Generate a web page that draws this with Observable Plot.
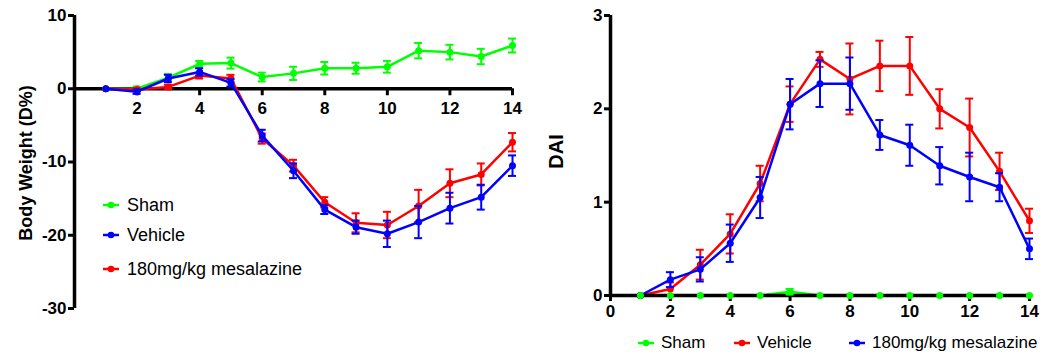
<!DOCTYPE html>
<html><head><meta charset="utf-8">
<script src="https://cdn.jsdelivr.net/npm/d3@7"></script>
<script src="https://cdn.jsdelivr.net/npm/@observablehq/plot@0.6"></script>
<style>
body{margin:0;background:#fff;font-family:"Liberation Sans",Arial,sans-serif;}
#wrap{position:relative;width:1045px;height:355px;overflow:hidden;background:#fff;}
.panel{position:absolute;top:0;}
.leg{position:absolute;height:24px;display:flex;align-items:center;white-space:nowrap;color:#000;}
.leg svg{display:block;}
</style></head><body><div id="wrap"></div>
<script>
// ---- data ----
const days = [1,2,3,4,5,6,7,8,9,10,11,12,13,14];

// Body weight change (%)
const bwSham       = [0, 0.0, 1.5, 3.4, 3.5, 1.6, 2.1, 2.8, 2.8, 3.0, 5.2, 5.0, 4.4, 5.9];
const bwShamErr    = [0, 0.3, 0.5, 0.4, 0.75, 0.6, 0.9, 0.85, 0.75, 0.8, 1.05, 1.0, 1.05, 0.95];
const bwVehicle    = [0, -0.4, 1.4, 2.3, 0.8, -6.4, -11.2, -16.5, -18.9, -19.8, -18.2, -16.3, -14.8, -10.5];
const bwVehicleErr = [0, 0.3, 0.5, 0.5, 0.5, 0.8, 1.0, 0.6, 0.9, 1.8, 2.2, 2.1, 1.7, 1.4];
const bwMesa       = [0, -0.1, 0.25, 1.8, 1.4, -6.8, -10.5, -15.5, -18.3, -18.6, -16.0, -12.9, -11.7, -7.3];
const bwMesaErr    = [0, 0.2, 0.3, 0.4, 0.5, 0.7, 0.8, 0.7, 1.3, 1.8, 2.2, 1.9, 1.5, 1.25];
const bwYTicks = [10, 0, -10, -20, -30];
const bwXTicks = [2, 4, 6, 8, 10, 12, 14];

// Disease activity index
const daiSham       = [0, 0, 0, 0, 0, 0.04, 0, 0, 0, 0, 0, 0, 0, 0];
const daiShamErr    = [0, 0, 0, 0, 0, 0.03, 0, 0, 0, 0, 0, 0, 0, 0];
const daiVehicle    = [0, 0.07, 0.33, 0.66, 1.2, 2.05, 2.53, 2.32, 2.46, 2.46, 2.0, 1.8, 1.33, 0.8];
const daiVehicleErr = [0, 0.07, 0.16, 0.21, 0.19, 0.19, 0.08, 0.38, 0.27, 0.31, 0.21, 0.31, 0.2, 0.13];
const daiMesa       = [0, 0.17, 0.28, 0.56, 1.05, 2.05, 2.27, 2.27, 1.72, 1.61, 1.39, 1.27, 1.16, 0.5];
const daiMesaErr    = [0, 0.08, 0.13, 0.2, 0.22, 0.27, 0.25, 0.28, 0.16, 0.22, 0.2, 0.26, 0.15, 0.11];
const daiYTicks = [0, 1, 2, 3];
const daiXTicks = [0, 2, 4, 6, 8, 10, 12, 14];

const groups = ["Sham", "Vehicle", "180mg/kg mesalazine"];
const GREEN = "#00ff00", BLUE = "#0000ff", RED = "#ff0000";
const FONT = '"Liberation Sans", Arial, sans-serif';

function rows(vals, errs) {
  return days.map((d, i) => ({day: d, v: vals[i], e: errs[i]}));
}

function seriesMarks(data, color) {
  const eb = data.filter(r => r.e > 0);
  return [
    Plot.line(data, {x: "day", y: "v", stroke: color, strokeWidth: 2.5}),
    Plot.ruleX(eb, {x: "day", y1: r => r.v - r.e, y2: r => r.v + r.e, stroke: color, strokeWidth: 2}),
    Plot.ruleY(eb, {y: r => r.v + r.e, x1: "day", x2: "day", insetLeft: -4, insetRight: -4, stroke: color, strokeWidth: 2}),
    Plot.ruleY(eb, {y: r => r.v - r.e, x1: "day", x2: "day", insetLeft: -4, insetRight: -4, stroke: color, strokeWidth: 2}),
    Plot.dot(data, {x: "day", y: "v", fill: color, r: 3.5})
  ];
}

const wrap = document.getElementById("wrap");

// ---- left panel: body weight ----
const left = Plot.plot({
  width: 530, height: 355,
  marginLeft: 74, marginRight: 18, marginTop: 15, marginBottom: 47,
  x: {domain: [0, 14], axis: null},
  y: {domain: [-30, 10], axis: null},
  style: {fontFamily: FONT, background: "transparent", overflow: "visible"},
  marks: [
    Plot.axisY({ticks: bwYTicks, tickFormat: d => String(d), tickSize: 6, tickPadding: 2, strokeWidth: 3, fontSize: 17, fontWeight: "bold", label: null, color: "#000"}),
    Plot.ruleX([0], {x: () => 0, y1: () => -30, y2: () => 10, strokeWidth: 3.5, stroke: "#000"}),
    Plot.ruleY([0], {y: () => 0, x1: () => 0, x2: () => 14, strokeWidth: 3.5, stroke: "#000"}),
    Plot.ruleX(bwXTicks, {x: d => d, y1: () => 0, y2: () => 0, insetBottom: -7, strokeWidth: 3, stroke: "#000"}),
    Plot.text(bwXTicks, {x: d => d, y: () => 0, text: d => String(d), dy: 20, fontSize: 17, fontWeight: "bold", fill: "#000"}),
    Plot.text(["Body Weight (D%)"], {frameAnchor: "left", textAnchor: "middle", rotate: -90, dx: -48, dy: 1, fontSize: 18, fontWeight: "bold", fill: "#000"}),
    ...seriesMarks(rows(bwSham, bwShamErr), GREEN),
    ...seriesMarks(rows(bwMesa, bwMesaErr), RED),
    ...seriesMarks(rows(bwVehicle, bwVehicleErr), BLUE)
  ]
});
left.classList.add("panel");
left.style.left = "0px";
wrap.appendChild(left);

// ---- right panel: DAI ----
const right = Plot.plot({
  width: 515, height: 355,
  marginLeft: 80, marginRight: 16, marginTop: 15, marginBottom: 60,
  x: {domain: [0, 14], axis: null},
  y: {domain: [0, 3], axis: null},
  style: {fontFamily: FONT, background: "transparent", overflow: "visible"},
  marks: [
    Plot.axisY({ticks: daiYTicks, tickFormat: d => String(d), tickSize: 6, tickPadding: 2, strokeWidth: 3, fontSize: 17, fontWeight: "bold", label: null, color: "#000"}),
    Plot.axisX({ticks: daiXTicks, tickFormat: d => String(d), tickSize: 6, tickPadding: 3, strokeWidth: 3, fontSize: 17, fontWeight: "bold", label: null, color: "#000"}),
    Plot.ruleX([0], {x: () => 0, y1: () => 0, y2: () => 3, strokeWidth: 3.5, stroke: "#000"}),
    Plot.text(["DAI"], {frameAnchor: "left", textAnchor: "middle", rotate: -90, dx: -54, dy: -4, fontSize: 20, fontWeight: "bold", fill: "#000"}),
    ...seriesMarks(rows(daiVehicle, daiVehicleErr), RED),
    ...seriesMarks(rows(daiMesa, daiMesaErr), BLUE),
    Plot.line(rows(daiSham, daiShamErr), {x: "day", y: "v", stroke: GREEN, strokeWidth: 2.5}),
    Plot.ruleY([0], {y: () => 0, x1: () => 0, x2: () => 14, strokeWidth: 3.5, stroke: "#000"}),
    ...seriesMarks(rows(daiSham, daiShamErr), GREEN).slice(1)
  ]
});
right.classList.add("panel");
right.style.left = "530px";
wrap.appendChild(right);

// ---- legends ----
function legend(x, yc, color, label, fontSize, gap) {
  const div = document.createElement("div");
  div.className = "leg";
  div.style.left = x + "px";
  div.style.top = (yc - 12) + "px";
  div.style.fontSize = fontSize + "px";
  div.innerHTML = `<svg width="16" height="10"><line x1="0" x2="16" y1="5" y2="5" stroke="${color}" stroke-width="2.5"/><circle cx="8" cy="5" r="3.3" fill="${color}"/></svg><span style="margin-left:${gap}px">${label}</span>`;
  wrap.appendChild(div);
}
legend(103, 205, GREEN, groups[0], 18, 8);
legend(103, 235, BLUE, groups[1], 18, 8);
legend(103, 269, RED, groups[2], 18, 8);

legend(638, 343, GREEN, groups[0], 17, 7);
legend(734, 343, RED, groups[1], 17, 7);
legend(849, 343, BLUE, groups[2], 17, 7);
</script>
</body></html>
